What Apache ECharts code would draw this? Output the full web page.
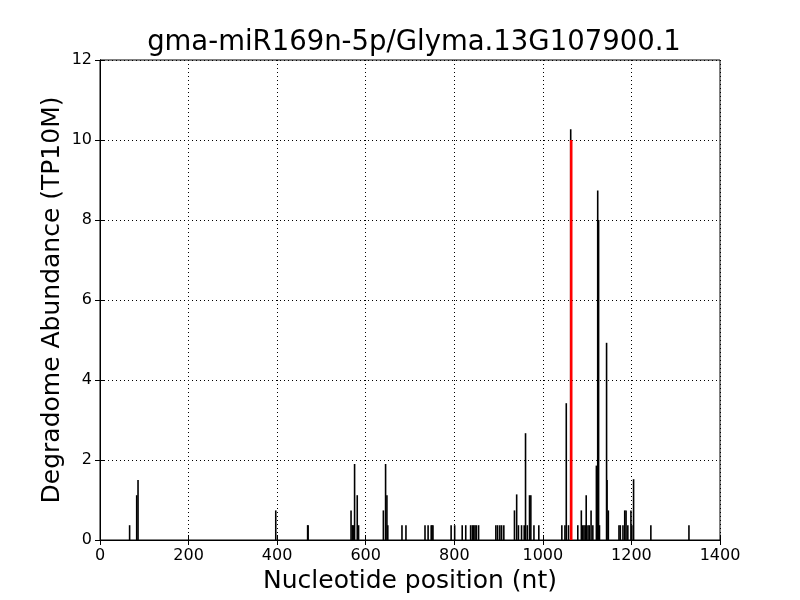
<!DOCTYPE html>
<html>
<head>
<meta charset="utf-8">
<script src="https://cdn.jsdelivr.net/npm/echarts@6/dist/echarts.min.js"></script>
<style>html,body{margin:0;padding:0;background:#fff}#c{width:800px;height:600px}</style>
</head>
<body>
<div id="c"></div>
<script>
const titleText = "gma-miR169n-5p/Glyma.13G107900.1";
const xAxisName = "Nucleotide position (nt)";
const yAxisName = "Degradome Abundance (TP10M)";
const xTicks = [0, 200, 400, 600, 800, 1000, 1200, 1400];
const yTicks = [0, 2, 4, 6, 8, 10, 12];

const positions = [68, 84, 87, 398, 470, 471, 568, 571, 573, 576, 582, 585,
  641, 646, 649, 651, 683, 692, 735, 742, 749, 751, 753, 794, 802,
  819, 827, 838, 842, 845, 848, 851, 856, 895, 899, 904, 908, 913,
  937, 942, 946, 953, 959, 962, 966, 971, 974, 981, 992,
  1044, 1051, 1054, 1059, 1064, 1080, 1088, 1091, 1094, 1097, 1099, 1103, 1106, 1110, 1114,
  1122, 1125, 1127, 1129, 1145, 1146, 1149, 1173, 1176, 1182, 1186, 1189, 1193, 1200, 1202, 1206,
  1245, 1331];
const abundance = [0.37, 1.12, 1.5, 0.74, 0.37, 0.37, 0.74, 0.37, 0.37, 1.9, 1.12, 0.37,
  0.74, 1.9, 1.12, 0.37, 0.37, 0.37, 0.37, 0.37, 0.37, 0.37, 0.37, 0.37, 0.37,
  0.37, 0.37, 0.37, 0.37, 0.37, 0.37, 0.37, 0.37, 0.37, 0.37, 0.37, 0.37, 0.37,
  0.74, 1.14, 0.37, 0.37, 0.37, 2.67, 0.37, 1.12, 1.12, 0.37, 0.37,
  0.37, 0.37, 3.42, 0.37, 10.27, 0.37, 0.74, 0.37, 0.37, 0.37, 1.12, 0.37, 0.37, 0.74, 0.37,
  1.86, 8.74, 8.0, 0.37, 4.93, 1.5, 0.74, 0.37, 0.37, 0.37, 0.74, 0.74, 0.37, 0.74, 0.37, 1.52,
  0.37, 0.37];
const sitePositions = [1064];
const siteAbundance = [10.0];

const blackData = positions.map((p, i) => [p, abundance[i]]);
const redData = sitePositions.map((p, i) => [p, siteAbundance[i]]);

const font = "DejaVu Sans";
const chart = echarts.init(document.getElementById('c'), null, {renderer: 'canvas'});
const axisCommon = {
  axisLine: {show: true, lineStyle: {color: '#000', width: 1}},
  axisTick: {show: true, inside: true, length: 5, lineStyle: {color: '#000'}},
};
const plain = v => String(v);
chart.setOption({
  animation: false,
  backgroundColor: '#fff',
  title: {
    text: titleText, left: 409, textAlign: 'center', top: 24,
    textStyle: {fontFamily: font, fontSize: 27.5, fontWeight: 'normal', color: '#000'}
  },
  grid: {left: 100, right: 80, top: 60, bottom: 60, show: true, borderColor: '#000', borderWidth: 1},
  xAxis: [{
    type: 'value', min: xTicks[0], max: xTicks[xTicks.length - 1], interval: 200,
    position: 'bottom',
    name: xAxisName, nameLocation: 'middle', nameGap: 29, nameMoveOverlap: false,
    nameTextStyle: {fontFamily: font, fontSize: 25, color: '#000'},
    ...axisCommon,
    axisLabel: {fontFamily: font, fontSize: 16, color: '#000', margin: 8, formatter: plain},
    splitLine: {show: true, lineStyle: {color: '#000', type: [1, 3], width: 1}}
  }, {
    type: 'value', min: xTicks[0], max: xTicks[xTicks.length - 1], interval: 200,
    position: 'top', ...axisCommon, axisLabel: {show: false}, splitLine: {show: false}
  }],
  yAxis: [{
    type: 'value', min: yTicks[0], max: yTicks[yTicks.length - 1], interval: 2,
    position: 'left',
    name: yAxisName, nameLocation: 'middle', nameGap: 35, nameMoveOverlap: false,
    nameTextStyle: {fontFamily: font, fontSize: 25, color: '#000'},
    ...axisCommon,
    axisLabel: {fontFamily: font, fontSize: 16, color: '#000', margin: 8, formatter: plain},
    splitLine: {show: true, lineStyle: {color: '#000', type: [1, 3], width: 1}}
  }, {
    type: 'value', min: yTicks[0], max: yTicks[yTicks.length - 1], interval: 2,
    position: 'right', ...axisCommon, axisLabel: {show: false}, splitLine: {show: false}
  }],
  series: [{
    type: 'bar', xAxisIndex: 0, yAxisIndex: 0, data: blackData,
    barWidth: 1.6, barGap: '-100%', itemStyle: {color: '#000'}, silent: true, z: 2
  }, {
    type: 'bar', xAxisIndex: 0, yAxisIndex: 0, data: redData,
    barWidth: 2.6, barGap: '-100%', itemStyle: {color: '#ff0000'}, silent: true, z: 3
  }]
});
</script>
</body>
</html>
